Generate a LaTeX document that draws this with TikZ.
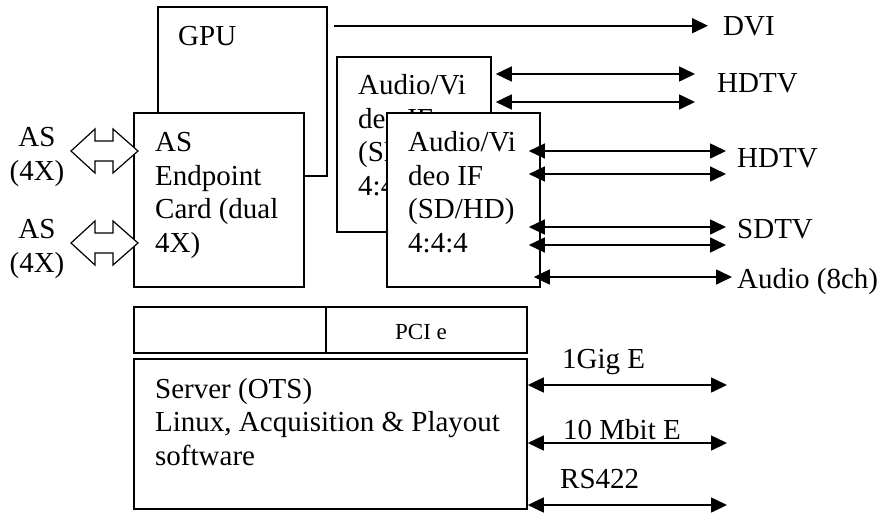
\documentclass[tikz,border=0pt]{standalone}
\usepackage{fontspec}
\setmainfont{Liberation Serif}
\usepackage{tikz}
\usetikzlibrary{arrows.meta}
\usetikzlibrary{calc}

\begin{document}
\begin{tikzpicture}[x=1pt, y=-1pt,
  box/.style={draw, fill=white, line width=1.6pt, inner sep=0pt},
  txt/.style={font=\fontsize{29}{33.4}\selectfont, inner sep=0pt, align=left, anchor=base west},
  small/.style={font=\fontsize{23}{26}\selectfont, inner sep=0pt},
  link/.style={line width=1.6pt, {Triangle[length=16pt,width=15pt]}-{Triangle[length=16pt,width=15pt]}},
  outlink/.style={line width=1.6pt, -{Triangle[length=16pt,width=15pt]}}]
  \useasboundingbox (0,0) rectangle (882,512);

  % cards (multi-line text sits on its last baseline)
  \node[box, minimum width=169, minimum height=169] (gpu) at (242.5,91.5) {};
  \node[txt] (gputxt) at (178,45) {GPU};
  \node[box, minimum width=170, minimum height=174] (card) at (219,200) {};
  \node[txt] (cardtxt) at (155,252) {AS\\Endpoint\\Card (dual\\4X)};
  \node[box, minimum width=154, minimum height=175] (avback) at (414,144.5) {};
  \node[txt] (avbacktxt) at (358,195) {Audio/Vi\\deo IF\\(SD/HD)\\4:4:4};
  \node[box, minimum width=153, minimum height=174] (avfront) at (463.5,200) {};
  \node[txt] (avfronttxt) at (408,252) {Audio/Vi\\deo IF\\(SD/HD)\\4:4:4};

  % server
  \node[box, minimum width=393, minimum height=46] (pci) at (330.5,330) {};
  \draw[line width=1.6pt] (326,0 |- pci.north) -- (326,0 |- pci.south);
  \node[small] (pcitxt) at (421,332) {PCI e};
  \node[box, minimum width=393, minimum height=150] (server) at (330.5,434) {};
  \node[txt] (servertxt) at (155,465) {Server (OTS)\\Linux, Acquisition \& Playout\\software};

  % AS links
  \node[txt, align=center, anchor=base] (asA) at (37,180) {AS\\(4X)};
  \node[txt, align=center, anchor=base] (asB) at (37,272) {AS\\(4X)};
  \foreach \c in {151,243}
    \draw[line width=1.2pt, fill=white] (71,\c) -- (95,\c-22) -- (95,\c-10) -- (113,\c-10) -- (113,\c-22)
      -- (138,\c) -- (113,\c+22) -- (113,\c+10) -- (95,\c+10) -- (95,\c+22) -- cycle;

  % outputs
  \node[txt] (dvi) at (723,35) {DVI};
  \node[txt] (hdtvA) at (717,92) {HDTV};
  \node[txt] (hdtvB) at (737,167) {HDTV};
  \node[txt] (sdtv) at (737,238) {SDTV};
  \node[txt] (audio) at (737,288) {Audio (8ch)};
  \draw[outlink] ([xshift=6pt]gpu.east |- dvi.west) -- ([xshift=-15pt]dvi.west);
  \foreach \y in {74,102}
    \draw[link] ([xshift=4pt]avback.east |- 0,\y) -- ([xshift=-22pt]hdtvA.west |- 0,\y);
  \foreach \y in {151,174}
    \draw[link] ([xshift=-12pt]avfront.east |- 0,\y) -- ([xshift=-11pt]hdtvB.west |- 0,\y);
  \foreach \y in {227,245}
    \draw[link] ([xshift=-12pt]avfront.east |- 0,\y) -- ([xshift=-11pt]sdtv.west |- 0,\y);
  \draw[link] ([xshift=-7pt]avfront.east |- 0,277) -- ([xshift=-5pt]audio.west |- 0,277);

  % network
  \node[txt] (gige) at (562,368) {1Gig E};
  \node[txt] (mbit) at (563,439) {10 Mbit E};
  \node[txt] (rs) at (560,488) {RS422};
  \coordinate (lanend) at (727,0);
  \foreach \y in {385,443,505}
    \draw[link] (server.east |- 0,\y) -- (lanend |- 0,\y);
\end{tikzpicture}
\end{document}
